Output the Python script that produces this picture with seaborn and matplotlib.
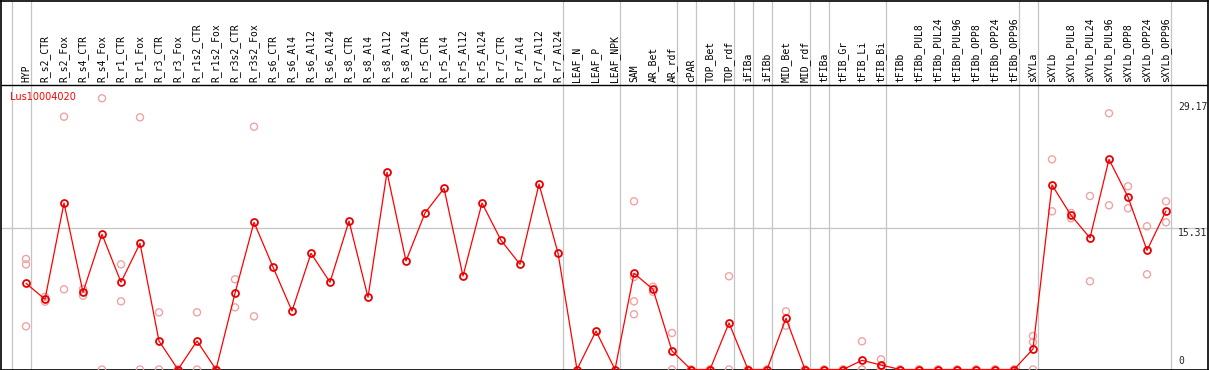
import pandas as pd
import seaborn as sns
import matplotlib
matplotlib.use("Agg")
import matplotlib.pyplot as plt

# Подписи образцов
samples = [
    "HYP", "R_s2_CTR", "R_s2_Fox", "R_s4_CTR", "R_s4_Fox", "R_r1_CTR", "R_r1_Fox",
    "R_r3_CTR", "R_r3_Fox", "R_r1s2_CTR", "R_r1s2_Fox", "R_r3s2_CTR", "R_r3s2_Fox",
    "R_s6_CTR", "R_s6_Al4", "R_s6_Al12", "R_s6_Al24", "R_s8_CTR", "R_s8_Al4",
    "R_s8_Al12", "R_s8_Al24", "R_r5_CTR", "R_r5_Al4", "R_r5_Al12", "R_r5_Al24",
    "R_r7_CTR", "R_r7_Al4", "R_r7_Al12", "R_r7_Al24", "LEAF_N", "LEAF_P", "LEAF_NPK",
    "SAM", "AR_Bet", "AR_rdf", "cPAR", "TOP_Bet", "TOP_rdf", "iFIBa", "iFIBb",
    "MID_Bet", "MID_rdf", "tFIBa", "tFIB_Gr", "tFIB_Li", "tFIB_Bi", "tFIBb",
    "tFIBb_PUL8", "tFIBb_PUL24", "tFIBb_PUL96", "tFIBb_OPP8", "tFIBb_OPP24", "tFIBb_OPP96",
    "sXYLa", "sXYLb", "sXYLb_PUL8", "sXYLb_PUL24", "sXYLb_PUL96", "sXYLb_OPP8",
    "sXYLb_OPP24", "sXYLb_OPP96",
]

# Средние значения (красная линия)
mean_vals = [
    9.32, 7.59, 18.0, 8.35, 14.62, 9.43, 13.64,
    3.08, 0.0, 3.08, 0.0, 8.24, 15.91,
    11.08, 6.32, 12.56, 9.43, 16.05, 7.81,
    21.32, 11.73, 16.92, 19.59, 10.11, 18.0,
    13.97, 11.37, 20.05, 12.59, 0.0, 4.16, 0.0,
    10.4, 8.67, 2.0, 0.0, 0.0, 5.03, 0.0, 0.0,
    5.54, 0.0, 0.0, 0.0, 0.99, 0.49, 0.0,
    0.0, 0.0, 0.0, 0.0, 0.0, 0.0,
    2.22, 19.95, 16.67, 14.22, 22.72, 18.65,
    12.89, 17.14,
]

# Повторности (бледные кружки)
replicates = [
    [11.95, 11.37, 4.67], [7.85, 7.33], [27.33, 8.67], [8.7, 7.98], [29.32, 0.0],
    [11.37, 7.37], [27.26, 0.0], [6.18, 0.0], [0.0, 0.0], [6.18, 0.0], [0.0, 0.0],
    [9.75, 6.72], [26.25, 5.75],
    [], [], [], [], [], [], [], [], [], [], [], [], [], [], [], [],
    [], [], [],
    [18.18, 10.0, 7.37, 5.97], [8.95, 8.39], [3.95, 0.0], [0.0, 0.0], [0.0, 0.0],
    [10.08, 0.0], [0.0, 0.0], [0.0, 0.0],
    [6.29, 4.74], [0.0, 0.0], [0.0, 0.0], [0.0, 0.0], [3.05, 0.0, 0.0],
    [1.1, 0.3, 0.05], [0.0, 0.0],
    [0.0, 0.0], [0.0, 0.0], [0.0, 0.0], [0.0, 0.0], [0.0, 0.0], [0.0, 0.0],
    [3.62, 2.97, 0.0], [22.72, 17.1], [16.92, 16.35], [18.76, 9.54], [27.7, 17.75],
    [19.81, 17.43], [15.48, 10.29], [18.18, 15.91],
]

# Границы групп (после какого образца стоит серая линия)
group_ends = [-1, 0, 28, 31, 34, 35, 37, 38, 39, 41, 42, 45, 52, 53, 60]

gene = "Lus10004020"
y_max_label = 29.17
y_mid_label = 15.31

df = pd.DataFrame({"pos": range(len(samples)), "sample": samples, "value": mean_vals})
rep_df = pd.DataFrame(
    [(i, v) for i, vals in enumerate(replicates) for v in vals],
    columns=["pos", "value"],
)

sns.set_style("white")

W, H = 1209, 370
fig = plt.figure(figsize=(W / 100, H / 100), dpi=100)
ax = fig.add_axes([1 / W, 0.5 / H, 1206.5 / W, 369 / H])

# масштаб: x = 26 + 19*i пикселей, y = 369.5 - 9.25*v пикселей
ax.set_xlim(-25 / 19, 1181.5 / 19)
ax.set_ylim(0, 369 / 9.25)
header_y = (369.5 - 85) / 9.25

for e in group_ends:
    ax.axvline(e + 0.237, color="#c4c4c4", lw=0.9, zorder=1)
ax.axhline(y_mid_label, color="#c4c4c4", lw=0.9, zorder=1)
ax.axhline(header_y, color="black", lw=1.0, zorder=2)

sns.scatterplot(
    data=rep_df, x="pos", y="value", ax=ax, marker="o", s=26,
    facecolor="none", edgecolor="#eea4a4", linewidth=1.0, zorder=3,
)
sns.lineplot(
    data=df, x="pos", y="value", ax=ax, color="#ff0000", linewidth=0.9,
    marker="o", markersize=5.0, markerfacecolor="none",
    markeredgecolor="#e80000", markeredgewidth=1.3, zorder=4,
)

# подписи образцов сверху
label_y = (369.5 - 82.5) / 9.25
for i, s in enumerate(samples):
    ax.text(i, label_y, s, rotation=90, ha="center", va="bottom",
            fontsize=7, family="DejaVu Sans Mono", color="black")

ax.text(-0.84, (369.5 - 97) / 9.25, gene, color="red", fontsize=7,
        family="DejaVu Sans", ha="left", va="center")

ax.text(60.63, y_max_label - 0.25, f"{y_max_label:.2f}", fontsize=7,
        family="DejaVu Sans Mono", ha="left", va="top")
ax.text(60.63, y_mid_label, f"{y_mid_label:.2f}", fontsize=7,
        family="DejaVu Sans Mono", ha="left", va="top")
ax.text(60.63, 0.35, "0", fontsize=7, family="DejaVu Sans Mono",
        ha="left", va="bottom")

ax.set_xlabel("")
ax.set_ylabel("")
ax.set_xticks([])
ax.set_yticks([])
for sp in ax.spines.values():
    sp.set_visible(True)
    sp.set_color("black")
    sp.set_linewidth(1.2)

fig.savefig("out.png", dpi=100)
